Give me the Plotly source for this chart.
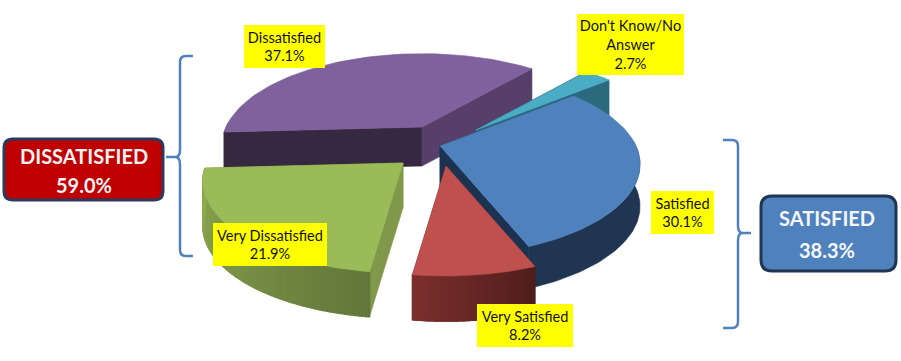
import math
import plotly.graph_objects as go

# ---- data ----
categories = ["Satisfied", "Very Satisfied", "Very Dissatisfied", "Dissatisfied", "Don't Know/No Answer"]
shares = [30.1, 8.2, 21.9, 37.1, 2.7]
label_lines = ["Satisfied", "Very Satisfied", "Very Dissatisfied", "Dissatisfied", "Don't Know/No<br>Answer"]
group_names = ["DISSATISFIED", "SATISFIED"]
group_shares = [59.0, 38.3]

# ---- styling / projection ----
W, H = 901, 361
START = 50.0
CX, CY = 425, 145
RX, RY, K = 196, 88, 0.20
depth = {"Satisfied": 42, "Very Satisfied": 45, "Very Dissatisfied": 45,
         "Dissatisfied": 39, "Don't Know/No Answer": 40}
pull = {"Satisfied": (15, 1), "Very Satisfied": (21, 21), "Very Dissatisfied": (-22, 18),
        "Dissatisfied": (-3, -18), "Don't Know/No Answer": (51, -15)}
top_col = {"Satisfied": "#4F81BD", "Very Satisfied": "#C0504D", "Very Dissatisfied": "#9BBB59",
           "Dissatisfied": "#7F619E", "Don't Know/No Answer": "#4BACC6"}
wall_a = {"Satisfied": "#1F3552", "Very Satisfied": "#4F1E1C", "Very Dissatisfied": "#62773A",
          "Dissatisfied": "#352840", "Don't Know/No Answer": "#2A6A7C"}
wall_b = {"Satisfied": "#1F3552", "Very Satisfied": "#7B2F2D", "Very Dissatisfied": "#8FAB52",
          "Dissatisfied": "#352840", "Don't Know/No Answer": "#2A6A7C"}
face_start = {"Satisfied": "#1F3552", "Very Satisfied": "#7B2F2D", "Very Dissatisfied": "#7F984A",
              "Dissatisfied": "#352840", "Don't Know/No Answer": "#2A6A7C"}
face_end = {"Satisfied": "#1B3350", "Very Satisfied": "#4F1E1C", "Very Dissatisfied": "#7F984A",
            "Dissatisfied": "#56406A", "Don't Know/No Answer": "#2A6A7C"}
draw_order = ["Dissatisfied", "Don't Know/No Answer", "Very Dissatisfied", "Satisfied", "Very Satisfied"]


def rim(theta, ox, oy):
    t = math.radians(theta)
    X, Y = math.sin(t), math.cos(t)
    s = 1 / (1 + K * Y)
    return ox + RX * X * s, oy - RY * Y * s


def mix(a, b, f):
    ca = [int(a[i:i + 2], 16) for i in (1, 3, 5)]
    cb = [int(b[i:i + 2], 16) for i in (1, 3, 5)]
    return "#%02x%02x%02x" % tuple(round(p + (q - p) * f) for p, q in zip(ca, cb))


fig = go.Figure()


def poly(pts, color, name, lw=0.6):
    xs = [p[0] for p in pts] + [pts[0][0]]
    ys = [p[1] for p in pts] + [pts[0][1]]
    fig.add_trace(go.Scatter(x=xs, y=ys, mode="lines", fill="toself", fillcolor=color,
                             line=dict(color=color, width=lw), name=name,
                             hoverinfo="skip", showlegend=False))


spans = {}
a = START
for c, v in zip(categories, shares):
    spans[c] = (a, a + v * 3.6)
    a += v * 3.6

for c in draw_order:
    a0, a1 = spans[c]
    ox, oy = CX + pull[c][0], CY + pull[c][1]
    d = depth[c]
    p0 = rim(a0, ox, oy)
    p1 = rim(a1, ox, oy)
    poly([(ox, oy), p0, (p0[0], p0[1] + d), (ox, oy + d)], face_start[c], c)
    poly([(ox, oy), p1, (p1[0], p1[1] + d), (ox, oy + d)], face_end[c], c)
    # outer wall: only the part that faces the viewer
    steps = [a0 + (a1 - a0) * i / 90 for i in range(91)]
    vis = [t for t in steps if math.cos(math.radians(t)) <= 0.05]
    if vis:
        if wall_a[c] == wall_b[c]:
            edge = [rim(t, ox, oy) for t in vis]
            poly(edge + [(q[0], q[1] + d) for q in reversed(edge)], wall_a[c], c)
        else:
            for i in range(len(vis) - 1):
                q0, q1 = rim(vis[i], ox, oy), rim(vis[i + 1], ox, oy)
                poly([q0, q1, (q1[0], q1[1] + d), (q0[0], q0[1] + d)],
                     mix(wall_a[c], wall_b[c], (i + .5) / (len(vis) - 1)), c, lw=1.6)
    arc = [rim(a0 + (a1 - a0) * i / 60, ox, oy) for i in range(61)]
    poly([(ox, oy)] + arc, top_col[c], c)

# yellow data labels: (left, top, right, bottom) of each box
boxes = {"Satisfied": (651, 191, 714, 234), "Very Satisfied": (477, 304, 573, 347),
         "Very Dissatisfied": (213, 223, 327, 266), "Dissatisfied": (244, 25, 325, 68),
         "Don't Know/No Answer": (577, 14, 684, 75)}
for c, t, v in zip(categories, label_lines, shares):
    l, tp, r, b = boxes[c]
    fig.add_annotation(x=(l + r) / 2, y=(tp + b) / 2, xref="x", yref="y", showarrow=False,
                       text=f"{t}<br>{v:.1f}%", width=r - l, height=b - tp, bgcolor="#FFFF00",
                       borderpad=0, borderwidth=0, align="center", valign="middle",
                       font=dict(family="Lato", size=14.5, color="#111111"))


def rrect(l, t, r, b, q):
    return (f"M{l + q},{t} L{r - q},{t} Q{r},{t} {r},{t + q} L{r},{b - q} Q{r},{b} {r - q},{b} "
            f"L{l + q},{b} Q{l},{b} {l},{b - q} L{l},{t + q} Q{l},{t} {l + q},{t} Z")


fig.add_shape(type="path", path=rrect(4, 139, 163, 200, 9), fillcolor="#C00000",
              line=dict(color="#2B3A5E", width=3))
fig.add_shape(type="path", path=rrect(761, 196, 896, 271, 11), fillcolor="#4F81BD",
              line=dict(color="#1F3552", width=3))
group_pos = [(83.5, 156, 185), (827, 218, 250)]
for nm, sh, (gx, y1, y2), col in zip(group_names, group_shares, group_pos, ["#F7F3F3", "#F3F6FA"]):
    fig.add_annotation(x=gx, y=y1, xref="x", yref="y", showarrow=False, text=f"<b>{nm}</b>",
                       font=dict(family="Lato", size=20, color=col))
    fig.add_annotation(x=gx, y=y2, xref="x", yref="y", showarrow=False, text=f"<b>{sh:.1f}%</b>",
                       font=dict(family="Lato", size=20, color=col))

brace = dict(color="#4F81BD", width=2.5)
fig.add_shape(type="path", line=brace,
              path="M193,56 L186,56 Q180,56 180,62 L180,150 Q180,157 175,157 L166,157 "
                   "L175,157 Q180,157 180,164 L180,250 Q180,256 186,256 L193,256")
fig.add_shape(type="path", line=brace,
              path="M723,140 L732,140 Q738,140 738,146 L738,226 Q738,233 743,233 L751,233 "
                   "L743,233 Q738,233 738,240 L738,322 Q738,328 732,328 L723,328")

fig.update_xaxes(range=[0, W], visible=False, fixedrange=True)
fig.update_yaxes(range=[H, 0], visible=False, fixedrange=True)
fig.update_layout(width=W, height=H, margin=dict(l=0, r=0, t=0, b=0),
                  paper_bgcolor="white", plot_bgcolor="white", showlegend=False)
fig.write_html("out.html", config={"displayModeBar": False},
               post_script="document.body.style.margin='0';document.documentElement.style.overflow='hidden';")
